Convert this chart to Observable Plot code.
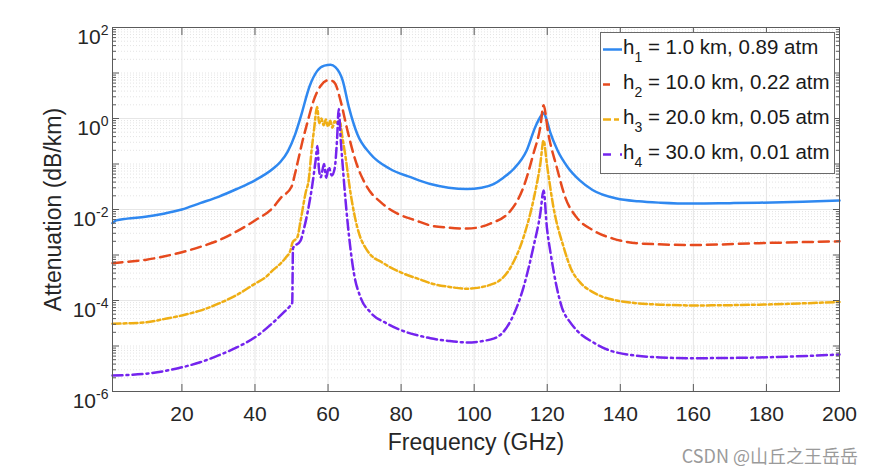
<!DOCTYPE html>
<html><head><meta charset="utf-8">
<script src="https://cdn.jsdelivr.net/npm/d3@7"></script>
<script src="https://cdn.jsdelivr.net/npm/@observablehq/plot@0.6"></script>
<style>
body{margin:0;background:#fff;}
#wrap{position:relative;width:871px;height:475px;overflow:hidden;background:#fff;}
#overlay{position:absolute;left:0;top:0;pointer-events:none;}
</style></head><body><div id="wrap"></div>
<script>
// [frequency GHz, attenuation dB/km]
const h1 = [[1,5.0e-3],[2,5.75e-3],[5,6.3e-3],[10,6.9e-3],[15,8.1e-3],[20,0.010],[25,0.0138],[30,0.019],[35,0.0282],[40,0.0437],[45,0.0794],[47,0.112],[49,0.19],[51,0.447],[52.5,1.07],[55,5.25],[57,11.0],[59,14.5],[60.7,15.1],[62,13.5],[64,6.9],[65.7,1.78],[68,0.457],[71.6,0.166],[77,0.0776],[82.6,0.0513],[88,0.0363],[93,0.0302],[98,0.0282],[102,0.0302],[105.3,0.0363],[108,0.0501],[110.8,0.0776],[114.4,0.20],[116.7,0.646],[118.5,1.20],[119,1.32],[119.6,1.07],[120.8,0.50],[122.8,0.20],[125.6,0.085],[128.9,0.0437],[132.4,0.0269],[139,0.0174],[145,0.0151],[151,0.0141],[160,0.0135],[170,0.0138],[178,0.0141],[190,0.0148],[200,0.0158]];
const h2 = [[1,6.6e-4],[5,7.1e-4],[10,7.8e-4],[15,9.3e-4],[20,1.15e-3],[25,1.51e-3],[30,2.09e-3],[35,3.31e-3],[40,5.75e-3],[45,0.0112],[47,0.0178],[50,0.0316],[51,0.063],[52,0.141],[53,0.316],[54.3,0.79],[56,2.4],[58,5.25],[60,6.92],[61,6.76],[62,5.75],[63.4,2.51],[65.3,0.55],[67.5,0.12],[70.7,0.031],[74.4,0.0145],[79,8.1e-3],[84,5.75e-3],[88,4.47e-3],[93,3.98e-3],[98,3.8e-3],[104.4,4.9e-3],[110,9.5e-3],[113.5,0.031],[116.2,0.166],[118.1,0.646],[119,1.95],[120.3,0.457],[122.6,0.085],[125,0.0178],[128,6.8e-3],[132.6,3.47e-3],[138,2.29e-3],[146,1.78e-3],[160,1.66e-3],[178,1.82e-3],[200,2.0e-3]];
const h3 = [[1,3.1e-5],[5,3.16e-5],[10,3.3e-5],[15,3.9e-5],[20,4.7e-5],[25,6.0e-5],[30,8.5e-5],[35,1.32e-4],[40,2.34e-4],[43,3.3e-4],[45,4.7e-4],[47,6.5e-4],[48.5,8.9e-4],[49.7,1.26e-3],[50.3,1.9e-3],[51.6,2.45e-3],[52.5,5.75e-3],[53.9,0.024],[54.7,0.044],[55.5,0.2],[56.2,0.6],[57,1.78],[57.6,0.79],[58.2,1.0],[58.8,0.71],[59.4,0.95],[60,0.66],[60.6,0.89],[61.2,0.63],[61.8,0.87],[62.5,0.79],[63.2,0.89],[63.9,0.40],[64.8,0.141],[66.2,0.0219],[68,4.07e-3],[70.7,1.26e-3],[75.3,6.5e-4],[80.7,3.9e-4],[85.3,2.88e-4],[88,2.4e-4],[93,2.0e-4],[98,1.82e-4],[105.3,2.34e-4],[110,5.4e-4],[113.5,2.45e-3],[116.2,0.0158],[118.1,0.1],[119,0.33],[119.9,0.1],[121.7,0.0112],[124.5,1.48e-3],[126.5,5.0e-4],[129,2.5e-4],[132.6,1.51e-4],[139,1.0e-4],[151,8.1e-5],[160,7.8e-5],[178,8.1e-5],[200,9.3e-5]];
const h4 = [[1,2.24e-6],[5,2.3e-6],[10,2.45e-6],[15,2.8e-6],[20,3.4e-6],[25,4.4e-6],[30,6.2e-6],[35,9.3e-6],[40,1.55e-5],[45,3.3e-5],[48,5.6e-5],[49.5,7.4e-5],[50.2,8.9e-5],[50.4,1.41e-3],[52.5,2.09e-3],[53.3,3.5e-3],[54.3,7.9e-3],[55.7,0.035],[56.6,0.12],[57.1,0.25],[57.5,0.079],[58,0.051],[58.9,0.1],[59.5,0.05],[60.2,0.085],[61,0.056],[61.8,0.079],[62.5,0.39],[62.9,1.62],[63.5,0.32],[63.9,0.12],[65.3,5.75e-3],[67.1,3.9e-4],[68.9,1.17e-4],[71.6,5.5e-5],[76.2,3.1e-5],[81.6,2.0e-5],[85.3,1.66e-5],[88,1.48e-5],[93,1.29e-5],[98,1.2e-5],[105.3,1.45e-5],[110,3.6e-5],[113.5,1.95e-4],[116.2,1.48e-3],[118.1,8.1e-3],[119,0.026],[119.9,4.07e-3],[121,1.0e-3],[122.6,1.95e-4],[124,7.1e-5],[126.3,3.3e-5],[128,2.24e-5],[132.6,1.2e-5],[139,7.2e-6],[151,5.6e-6],[160,5.4e-6],[178,5.6e-6],[200,6.5e-6]];

const seriesData = [h1, h2, h3, h4];
const seriesColors = ["#2f88f0", "#e64a1e", "#efae14", "#7424ee"];
const seriesDash = [null, "10,6", "8,3,3,3", "10,4,2,4"];
const legendSub = ["1", "2", "3", "4"];
const legendText = ["= 1.0 km, 0.89 atm", "= 10.0 km, 0.22 atm", "= 20.0 km, 0.05 atm", "= 30.0 km, 0.01 atm"];
const xTicks = [20, 40, 60, 80, 100, 120, 140, 160, 180, 200];
const yTicks = [1e-6, 1e-4, 1e-2, 1, 1e2];
const xTitle = "Frequency (GHz)";
const yTitle = "Attenuation (dB/km)";
const watermark = "CSDN @山丘之王岳岳";

const minorY = [];
for (let e = -6; e < 2; e++) for (let m = 2; m <= 9; m++) minorY.push(m * Math.pow(10, e));
const decadesAll = [1e-6,1e-5,1e-4,1e-3,1e-2,1e-1,1,10,100];

const axisCol = "#5a5a5a";
const lineMarks = seriesData.map((s, i) => Plot.line(s, {
  x: d => d[0], y: d => d[1], stroke: seriesColors[i], strokeWidth: 2.5,
  strokeDasharray: seriesDash[i] || undefined, curve: "monotone-x", strokeLinejoin: "round"
}));

const plot = Plot.plot({
  width: 871, height: 475,
  marginLeft: 112, marginRight: 32, marginTop: 27, marginBottom: 84,
  style: {fontFamily: "'Liberation Sans', Arial, sans-serif", fontSize: "21px", color: "#262626", background: "#fff", overflow: "visible"},
  x: {domain: [1, 200]},
  y: {type: "log", domain: [1e-6, 1e2]},
  marks: [
    Plot.gridY(minorY, {stroke: "#e4e4e4", strokeOpacity: 1, strokeDasharray: "1,2"}),
    Plot.gridY(decadesAll.filter(d => !yTicks.includes(d)), {stroke: "#e4e4e4", strokeOpacity: 1, strokeDasharray: "1,2"}),
    Plot.gridY(yTicks, {stroke: "#e6e6e6", strokeOpacity: 1}),
    Plot.gridX(xTicks, {stroke: "#e6e6e6", strokeOpacity: 1}),
    ...lineMarks,
    Plot.frame({stroke: axisCol}),
    Plot.axisY(decadesAll, {anchor: "left", tickSize: -7, fill: "none", stroke: axisCol, label: null}),
    Plot.axisY(decadesAll, {anchor: "right", tickSize: -7, fill: "none", stroke: axisCol, label: null}),
    Plot.axisY(minorY, {anchor: "left", tickSize: -4, fill: "none", stroke: axisCol, label: null}),
    Plot.axisY(minorY, {anchor: "right", tickSize: -4, fill: "none", stroke: axisCol, label: null}),
    Plot.axisX(xTicks, {anchor: "bottom", tickSize: -7, fill: "none", stroke: axisCol, label: null}),
    Plot.axisX(xTicks, {anchor: "top", tickSize: -7, fill: "none", stroke: axisCol, label: null}),
    Plot.axisY(yTicks, {anchor: "left", tickSize: 0, tickPadding: 4, stroke: "none", fill: "#262626", label: null, fontSize: 21,
      tickFormat: d => String(Math.round(Math.log10(d)))}),
    Plot.axisX(xTicks, {anchor: "bottom", tickSize: 0, tickPadding: 15, stroke: "none", fill: "#262626", label: null, fontSize: 21}),
    Plot.text([xTitle], {text: d => d, frameAnchor: "bottom", lineAnchor: "middle", textAnchor: "middle", dy: 51, fontSize: 23, fill: "#262626"}),
    Plot.text([yTitle], {text: d => d, frameAnchor: "left", lineAnchor: "middle", textAnchor: "middle", rotate: -90, dx: -59, fontSize: 23, fill: "#262626"})
  ]
});

d3.select(plot).selectAll('g[aria-label="y-axis tick label"] text').each(function () {
  const e = this.textContent;
  const t = d3.select(this);
  t.text(null).attr("dy", "0.48em");
  t.append("tspan").text("10");
  t.append("tspan").attr("dy", -9).attr("font-size", 14).text(e);
});

const wrap = document.getElementById("wrap");
wrap.appendChild(plot);

// Legend + watermark overlay
const ov = d3.select(wrap).append("svg").attr("id", "overlay").attr("width", 871).attr("height", 475)
  .style("font-family", "'Liberation Sans', Arial, sans-serif");
const lg = ov.append("g");
lg.append("rect").attr("x", 600.5).attr("y", 32.5).attr("width", 234).attr("height", 141)
  .attr("fill", "#fff").attr("stroke", "#6a6a6a").attr("stroke-width", 1);
const legendSampleDash = [null, "7,30", "8,3,5,30", "8,9,2,30"];
legendText.forEach((txt, i) => {
  const base = 53.5 + i * 35;
  lg.append("line").attr("x1", 603).attr("x2", 622).attr("y1", base - 4).attr("y2", base - 4)
    .attr("stroke", seriesColors[i]).attr("stroke-width", 2.5)
    .attr("stroke-dasharray", legendSampleDash[i]);
  const t = lg.append("text").attr("x", 623).attr("y", base).attr("font-size", 20.5).attr("fill", "#1a1a1a");
  t.append("tspan").text("h");
  t.append("tspan").attr("dy", 8).attr("font-size", 14).text(legendSub[i]);
  t.append("tspan").attr("dy", -8).text(" " + txt);
});
ov.append("text").attr("x", 858).attr("y", 463).attr("text-anchor", "end")
  .attr("font-family", "'Noto Sans CJK SC', 'Noto Sans', sans-serif").attr("font-size", 18)
  .attr("fill", "#9a9a9a").text(watermark);
</script></body></html>
